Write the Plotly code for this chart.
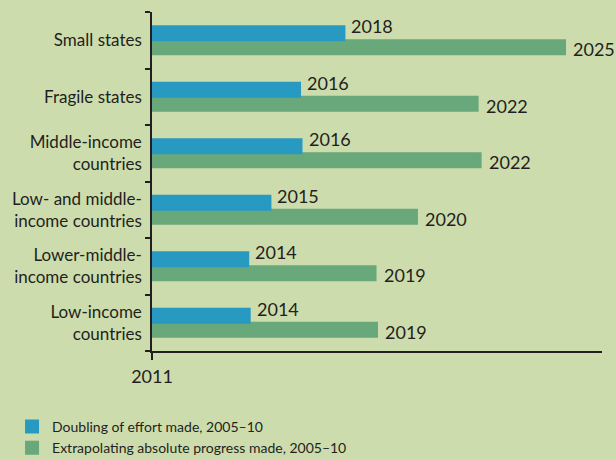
import plotly.graph_objects as go

# Data
groups = ["Small states", "Fragile states", "Middle-income<br>countries",
          "Low- and middle-<br>income countries", "Lower-middle-<br>income countries",
          "Low-income<br>countries"]
doubling = [2017.5, 2016.0, 2016.05, 2015.0, 2014.25, 2014.3]
doubling_lbl = ["2018", "2016", "2016", "2015", "2014", "2014"]
extrap = [2024.95, 2022.0, 2022.1, 2019.95, 2018.55, 2018.6]
extrap_lbl = ["2025", "2022", "2022", "2020", "2019", "2019"]
start_year = 2011

BG = "#cddcad"
BLUE = "#2899c0"
GREEN = "#69a87a"
INK = "#231f20"
FONT = "Lato, 'Open Sans', Arial, sans-serif"

fig = go.Figure()
# green first so it sits under the blue bar in each group
fig.add_trace(go.Bar(y=groups, x=[v - start_year for v in extrap], base=start_year,
                     orientation="h", marker_color=GREEN,
                     marker_line=dict(width=2, color=GREEN),
                     name="Extrapolating absolute progress made, 2005\u201310"))
fig.add_trace(go.Bar(y=groups, x=[v - start_year for v in doubling], base=start_year,
                     orientation="h", marker_color=BLUE,
                     marker_line=dict(width=2, color=BLUE),
                     name="Doubling of effort made, 2005\u201310"))

# value labels at the end of each bar
for g, v, t in zip(groups, doubling, doubling_lbl):
    fig.add_annotation(x=v, y=g, text=t, showarrow=False, xanchor="left",
                       xshift=5, yshift=14, font=dict(size=18, color=INK, family=FONT))
for g, v, t in zip(groups, extrap, extrap_lbl):
    fig.add_annotation(x=v, y=g, text=t, showarrow=False, xanchor="left",
                       xshift=6, yshift=-9, font=dict(size=18, color=INK, family=FONT))

fig.update_layout(
    width=616, height=460,
    margin=dict(l=152, r=14, t=12, b=109, autoexpand=False),
    paper_bgcolor=BG, plot_bgcolor=BG,
    barmode="group", bargap=0.504, bargroupgap=0,
    font=dict(family=FONT, size=17, color=INK),
    showlegend=True,
    legend=dict(x=-0.311, y=-0.177, xanchor="left", yanchor="top",
                traceorder="reversed", bgcolor="rgba(0,0,0,0)",
                font=dict(size=14, color=INK), tracegroupgap=0, itemwidth=30),
)
fig.update_xaxes(range=[start_year, 2026.2], tickvals=[start_year], ticktext=["2011"],
                 showgrid=False, zeroline=False, showline=True, linecolor=INK, linewidth=1.5,
                 ticks="outside", ticklen=7, tickcolor=INK, tickwidth=1.5,
                 ticklabelstandoff=2, tickfont=dict(size=18, color=INK))
fig.update_yaxes(categoryorder="array", categoryarray=groups[::-1], range=[-0.5, 5.5],
                 showgrid=False, zeroline=False, showline=True, linecolor=INK, linewidth=1.5,
                 ticks="outside", ticklen=5, tickcolor=INK, tickwidth=1.5, tickson="boundaries",
                 ticklabelstandoff=5, tickfont=dict(size=17, color=INK))

# drop the browser's default page margin so the figure fills the window
fig.write_html("out.html", config={"displayModeBar": False},
               post_script="document.body.style.margin='0';")
